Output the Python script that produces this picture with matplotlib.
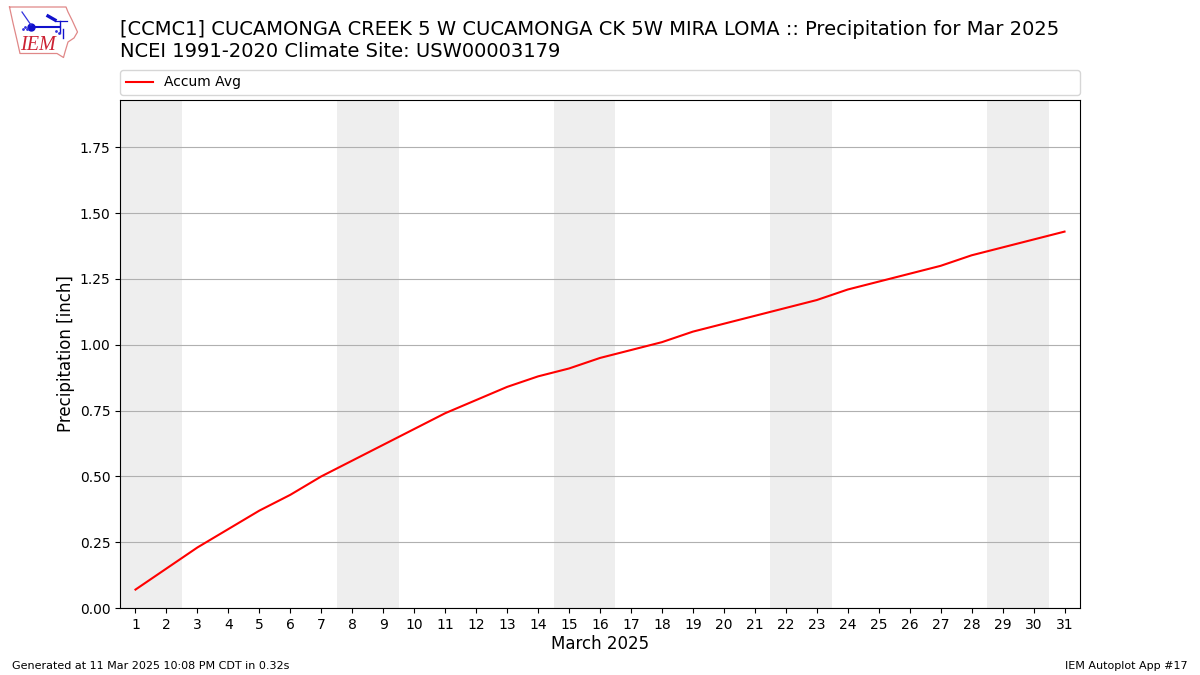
import matplotlib
matplotlib.use("Agg")
import matplotlib.pyplot as plt

days = list(range(1, 32))
accum_avg = [0.07, 0.15, 0.23, 0.30, 0.37, 0.43, 0.50, 0.56, 0.62, 0.68, 0.74,
             0.79, 0.84, 0.88, 0.91, 0.95, 0.98, 1.01, 1.05, 1.08, 1.11, 1.14,
             1.17, 1.21, 1.24, 1.27, 1.30, 1.34, 1.37, 1.40, 1.43]
weekend_starts = [0.5, 7.5, 14.5, 21.5, 28.5]
yticks = [0, 0.25, 0.5, 0.75, 1.0, 1.25, 1.5, 1.75]

# logo outline, in pixels of the picture
logo_x = [9.5, 66, 68, 72, 77.5, 74, 68, 65, 63.5, 57, 20, 17, 13, 9.5]
logo_y = [7, 7, 12, 20, 32, 38, 42, 52, 57.5, 53.5, 53.5, 40, 23, 7]

fig = plt.figure(figsize=(12, 6.75), dpi=100)
ax = fig.add_axes([120 / 1200, 1 - 608 / 675, 960 / 1200, 508 / 675])
for s in weekend_starts:
    ax.axvspan(s, s + 2, color="#eeeeee", lw=0, zorder=0)
line, = ax.plot(days, accum_avg, color="red", label="Accum Avg", zorder=3)
ax.set_xlim(0.5, 31.5)
ax.set_ylim(0, 1.93)
ax.set_xticks(days)
ax.set_yticks(yticks)
ax.set_yticklabels([f"{v:.2f}" for v in yticks])
ax.grid(axis="y", color="#b0b0b0", lw=0.8, zorder=1)
ax.set_axisbelow(True)
ax.set_xlabel("March 2025", fontsize=12, labelpad=2.3)
ax.set_ylabel("Precipitation [inch]", fontsize=12)
ax.yaxis.set_label_coords(-45 / 960, 0.5)
ax.legend(loc="lower left", bbox_to_anchor=(0, 1.01, 1, 0.05), mode="expand",
          ncol=1, borderaxespad=0, fontsize=10)
fig.text(120 / 1200, 1 - 29.5 / 675,
         "[CCMC1] CUCAMONGA CREEK 5 W CUCAMONGA CK 5W MIRA LOMA :: Precipitation for Mar 2025",
         fontsize=14, va="center")
fig.text(120 / 1200, 1 - 51.5 / 675, "NCEI 1991-2020 Climate Site: USW00003179",
         fontsize=14, va="center")
fig.text(12 / 1200, 1 - 666 / 675, "Generated at 11 Mar 2025 10:08 PM CDT in 0.32s",
         fontsize=8, va="center")
fig.text(1188 / 1200, 1 - 666 / 675, "IEM Autoplot App #17", fontsize=8,
         va="center", ha="right")

logo = fig.add_axes([0, 1 - 65 / 675, 90 / 1200, 65 / 675])
logo.set_xlim(0, 90)
logo.set_ylim(65, 0)
logo.axis("off")
logo.plot(logo_x, logo_y, color="#e08888", lw=0.9)
logo.plot([31, 60], [26.5, 26.5], color="#1111cc", lw=1.5)
logo.plot([31], [26.5], "o", color="#1111cc", ms=5)
logo.plot([22, 31], [12, 25], color="#3333dd", lw=0.9)
logo.plot([48, 55], [16, 20], color="#1111cc", lw=2.4)
logo.plot([55, 67], [21, 21], color="#1111cc", lw=0.9)
logo.plot([60, 60], [21, 33], color="#1111cc", lw=1.0)
logo.plot([63, 63], [29, 38], color="#1111cc", lw=1.0)
logo.plot([23, 25, 27, 56, 59], [29, 27, 29, 31, 33], ".", color="#3333dd", ms=2)
logo.text(37.5, 45.5, "IEM", color="#cc2233", fontsize=14.5, style="italic",
          family="Liberation Serif", ha="center", va="center")
fig.savefig("out.png", dpi=100)
